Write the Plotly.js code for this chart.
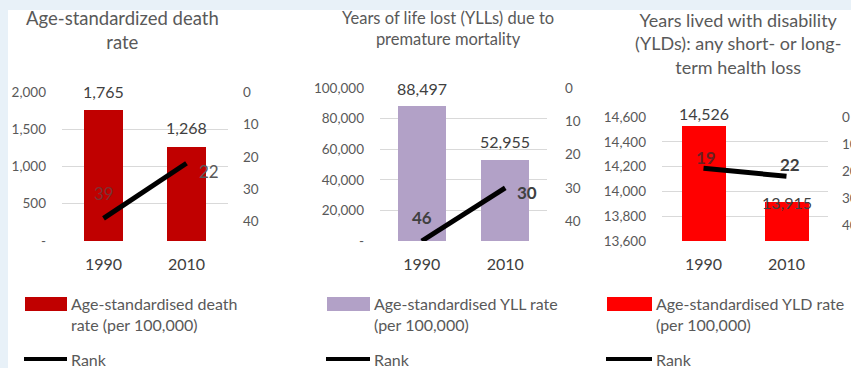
<!DOCTYPE html>
<html>
<head>
<meta charset="utf-8">
<script src="https://cdn.plot.ly/plotly-3.0.1.min.js"></script>
<style>html,body{margin:0;padding:0;background:#fff;}#chart{width:851px;height:368px;}</style>
</head>
<body>
<div id="chart"></div>
<script>
// ---- data ----
const categories = ['1990', '2010'];
const deathRate = [1765, 1268];
const deathRank = [39, 22];
const yllRate = [88497, 52955];
const yllRank = [46, 30];
const yldRate = [14526, 13915];
const yldRank = [19, 22];
const panelTitles = [
  'Age-standardized death<br>rate',
  'Years of life lost (YLLs) due to<br>premature mortality',
  'Years lived with disability<br>(YLDs): any short- or long-<br>term health loss'
];
const barNames = [
  'Age-standardised death<br>rate (per 100,000)',
  'Age-standardised YLL rate<br>(per 100,000)',
  'Age-standardised YLD rate<br>(per 100,000)'
];
const lineName = 'Rank';
const deathTicks = [0, 500, 1000, 1500, 2000];
const yllTicks = [0, 20000, 40000, 60000, 80000, 100000];
const yldTicks = [13600, 13800, 14000, 14200, 14400, 14600];
const rankTicks = [0, 10, 20, 30, 40];

// ---- style ----
const W = 851, H = 368;
const px = v => v / W;
const py = v => 1 - v / H;
const FONT = 'Lato, "Open Sans", sans-serif';
const GREY = '#595959';
const DARK = '#404040';
const barColors = ['#c00000', '#b2a1c7', '#ff0000'];
const fmt = v => v === 0 ? '-' : v.toLocaleString('en-US');

const panels = [
  {rate: deathRate, rank: deathRank, ticks: deathTicks, range: [0, 2000], x0: 62, x1: 228, top: 92, barW: 0.47,
   color: barColors[0], titleX: 122, titleY: 30, titleSize: 18.5,
   barShift: [18, 19], rankShift: [[0, 25], [22, -8]], rankBold: false, rankColors: ['rgba(110,60,60,0.85)', GREY],
   legX: 25, legX1: 67, rtStand: 14},
  {rate: yllRate, rank: yllRank, ticks: yllTicks, range: [0, 100000], x0: 380, x1: 547, top: 88, barW: 0.57,
   color: barColors[1], titleX: 448, titleY: 29, titleSize: 16.5,
   barShift: [17, 18], rankShift: [[0, 24], [22, -5]], rankBold: true, rankColors: [DARK, DARK],
   legX: 327, legX1: 370, rtStand: 17},
  {rate: yldRate, rank: yldRank, ticks: yldTicks, range: [13600, 14600], x0: 662, x1: 828, top: 117, barW: 0.53,
   color: barColors[2], titleX: 738, titleY: 44, titleSize: 18,
   barShift: [13, -1], rankShift: [[2, 11], [3, 12]], rankBold: true, rankColors: ['#6b1f1f', DARK],
   legX: 607, legX1: 652, rtStand: 13}
];
const bottom = 241;
const rankRange = [46, 0];

const data = [];
const layout = {
  width: W, height: H,
  margin: {l: 0, r: 0, t: 0, b: 0},
  paper_bgcolor: '#ffffff', plot_bgcolor: 'rgba(0,0,0,0)',
  showlegend: false,
  font: {family: FONT, color: GREY},
  annotations: [], shapes: [],
  bargap: 0
};

// light blue frame strips from the slide background
layout.shapes.push({type: 'rect', xref: 'paper', yref: 'paper', x0: 0, x1: 1, y0: py(10), y1: 1, fillcolor: '#e8f1f8', line: {width: 0}, layer: 'below'});
layout.shapes.push({type: 'rect', xref: 'paper', yref: 'paper', x0: 0, x1: px(8), y0: 0, y1: 1, fillcolor: '#e8f1f8', line: {width: 0}, layer: 'below'});

panels.forEach((p, i) => {
  const n = i + 1;
  const xa = n === 1 ? 'x' : 'x' + n;
  const yl = 'y' + (2 * i + 1 === 1 ? '' : 2 * i + 1);
  const yr = 'y' + (2 * i + 2);
  const xKey = n === 1 ? 'xaxis' : 'xaxis' + n;
  const ylKey = 'yaxis' + (2 * i + 1 === 1 ? '' : 2 * i + 1);
  const yrKey = 'yaxis' + (2 * i + 2);

  data.push({type: 'bar', x: categories, y: p.rate, xaxis: xa, yaxis: yl, name: barNames[i],
    marker: {color: p.color}, width: p.barW, hoverinfo: 'x+y'});
  data.push({type: 'scatter', mode: 'lines', x: categories, y: p.rank, xaxis: xa, yaxis: yr, name: lineName,
    line: {color: '#000000', width: 5}});

  layout[xKey] = {domain: [px(p.x0), px(p.x1)], anchor: yl, type: 'category', range: [-0.5, 1.5],
    showgrid: false, zeroline: false, showline: false, ticks: '',
    tickfont: {size: 16, color: DARK, family: FONT}, ticklabelstandoff: 12};
  layout[ylKey] = {domain: [py(bottom), py(p.top)], anchor: xa, range: p.range, tickvals: p.ticks,
    ticktext: p.ticks.map(fmt), showgrid: true, gridcolor: '#d9d9d9', gridwidth: 1, zeroline: false,
    showline: false, ticks: '', tickfont: {size: 13.5, color: GREY, family: FONT}, ticklabelstandoff: 15};
  layout[yrKey] = {domain: [py(bottom), py(p.top)], anchor: xa, overlaying: yl, side: 'right',
    range: rankRange, tickvals: rankTicks, ticktext: rankTicks.map(String), showgrid: false,
    zeroline: false, showline: false, ticks: '', tickfont: {size: 13.5, color: GREY, family: FONT},
    ticklabelstandoff: p.rtStand};

  // title
  layout.annotations.push({xref: 'paper', yref: 'paper', x: px(p.titleX), y: py(p.titleY), xanchor: 'center', yanchor: 'middle',
    text: panelTitles[i], showarrow: false, align: 'center', font: {size: p.titleSize, color: GREY, family: FONT}});

  // bar value labels and rank labels (category index on the x axis)
  categories.forEach((c, k) => {
    layout.annotations.push({xref: xa, yref: yl, x: k, y: p.rate[k], yanchor: 'middle', xanchor: 'center',
      yshift: p.barShift[k], text: fmt(p.rate[k]), showarrow: false, font: {size: 16, color: DARK, family: FONT}});
    layout.annotations.push({xref: xa, yref: yr, x: k, y: p.rank[k], yanchor: 'middle', xanchor: 'center',
      xshift: p.rankShift[k][0], yshift: p.rankShift[k][1],
      text: p.rankBold ? '<b>' + p.rank[k] + '</b>' : String(p.rank[k]), showarrow: false,
      font: {size: 17, color: p.rankColors[k], family: FONT}});
  });

  // legend (drawn)
  layout.shapes.push({type: 'rect', xref: 'paper', yref: 'paper', x0: px(p.legX), x1: px(p.legX1), y0: py(311), y1: py(297),
    fillcolor: p.color, line: {width: 0}});
  layout.shapes.push({type: 'line', xref: 'paper', yref: 'paper', x0: px(p.legX - 1), x1: px(p.legX1), y0: py(359), y1: py(359),
    line: {color: '#000000', width: 4}});
  layout.annotations.push({xref: 'paper', yref: 'paper', x: px(p.legX1 + 2), y: py(292), xanchor: 'left', yanchor: 'top',
    text: barNames[i], showarrow: false, align: 'left', font: {size: 16, color: GREY, family: FONT}});
  layout.annotations.push({xref: 'paper', yref: 'paper', x: px(p.legX1 + 2), y: py(359), xanchor: 'left', yanchor: 'middle',
    text: lineName, showarrow: false, align: 'left', font: {size: 16, color: GREY, family: FONT}});
});

Plotly.newPlot('chart', data, layout, {displayModeBar: false, staticPlot: true});
</script>
</body>
</html>
